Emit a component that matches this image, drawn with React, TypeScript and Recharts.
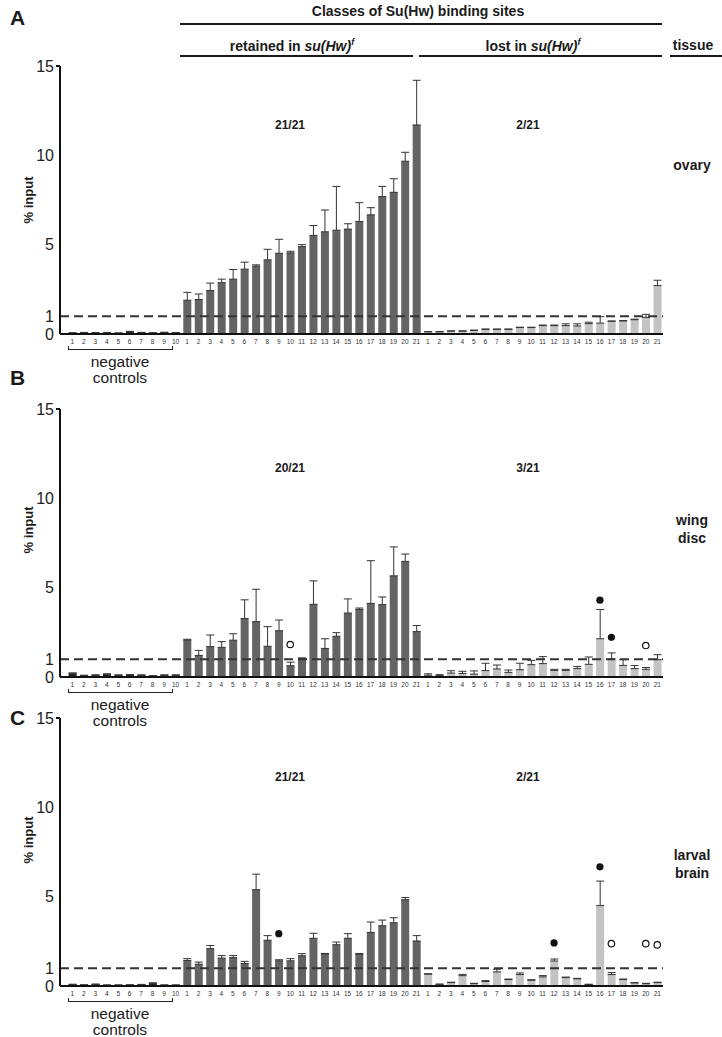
import React from "react";
import { ComposedChart, Bar, Cell, ErrorBar, Scatter, XAxis, YAxis, ReferenceLine } from "recharts";

// site numbers along the x axis
const NEG_SITES = [1, 2, 3, 4, 5, 6, 7, 8, 9, 10];
const CLASS_SITES = [1, 2, 3, 4, 5, 6, 7, 8, 9, 10, 11, 12, 13, 14, 15, 16, 17, 18, 19, 20, 21];
const Y_TICKS = [0, 1, 5, 10, 15];

// A - ovary
const A_NEG = [0.05, 0.07, 0.06, 0.07, 0.05, 0.12, 0.07, 0.06, 0.08, 0.06];
const A_NEG_ERR = [0.02, 0.02, 0.02, 0.02, 0.01, 0.03, 0.02, 0.01, 0.02, 0.02];
const A_RET = [1.89, 1.93, 2.43, 2.87, 3.07, 3.63, 3.8, 4.15, 4.52, 4.54, 4.89, 5.52, 5.72, 5.81, 5.87, 6.3, 6.67, 7.69, 7.93, 9.67, 11.7];
const A_RET_ERR = [0.44, 0.31, 0.42, 0.2, 0.54, 0.39, 0.07, 0.59, 0.78, 0.09, 0.11, 0.55, 1.22, 2.45, 0.3, 1.05, 0.4, 0.57, 0.76, 0.5, 2.5];
const A_LOST = [0.12, 0.12, 0.16, 0.16, 0.2, 0.26, 0.26, 0.26, 0.36, 0.36, 0.47, 0.47, 0.47, 0.45, 0.58, 0.61, 0.71, 0.73, 0.8, 0.93, 2.71];
const A_LOST_ERR = [0.02, 0.02, 0.02, 0.02, 0.02, 0.02, 0.02, 0.02, 0.02, 0.02, 0.03, 0.03, 0.1, 0.12, 0.08, 0.36, 0.02, 0.02, 0.03, 0.17, 0.3];

// B - wing disc
const B_NEG = [0.2, 0.08, 0.1, 0.15, 0.1, 0.12, 0.1, 0.06, 0.1, 0.1];
const B_NEG_ERR = [0.03, 0.02, 0.02, 0.03, 0.02, 0.02, 0.02, 0.01, 0.02, 0.02];
const B_RET = [2.06, 1.21, 1.7, 1.66, 2.06, 3.27, 3.1, 1.72, 2.59, 0.63, 1.03, 4.07, 1.6, 2.28, 3.58, 3.78, 4.12, 4.05, 5.66, 6.47, 2.54];
const B_RET_ERR = [0.05, 0.28, 0.65, 0.32, 0.36, 1.05, 1.81, 1.1, 0.6, 0.2, 0.04, 1.31, 0.54, 0.2, 0.79, 0.08, 2.39, 0.43, 1.62, 0.41, 0.34];
const B_LOST = [0.1, 0.08, 0.22, 0.2, 0.16, 0.36, 0.45, 0.26, 0.41, 0.69, 0.75, 0.37, 0.37, 0.47, 0.71, 2.14, 1.01, 0.65, 0.47, 0.43, 0.97];
const B_LOST_ERR = [0.08, 0.05, 0.13, 0.12, 0.18, 0.41, 0.22, 0.13, 0.36, 0.24, 0.39, 0.06, 0.06, 0.12, 0.41, 1.64, 0.34, 0.32, 0.17, 0.1, 0.28];
const B_FILLED = [{ group: "lost", site: 16, y: 4.3 }, { group: "lost", site: 17, y: 2.22 }];
const B_OPEN = [{ group: "ret", site: 10, y: 1.82 }, { group: "lost", site: 20, y: 1.76 }];

// C - larval brain
const C_NEG = [0.08, 0.06, 0.09, 0.05, 0.05, 0.06, 0.07, 0.15, 0.05, 0.05];
const C_NEG_ERR = [0.02, 0.01, 0.02, 0.01, 0.01, 0.01, 0.02, 0.03, 0.01, 0.01];
const C_RET = [1.43, 1.22, 2.09, 1.56, 1.59, 1.26, 5.39, 2.56, 1.41, 1.41, 1.69, 2.67, 1.8, 2.31, 2.67, 1.78, 3.0, 3.37, 3.54, 4.83, 2.52];
const C_RET_ERR = [0.1, 0.12, 0.18, 0.14, 0.12, 0.12, 0.87, 0.26, 0.06, 0.12, 0.12, 0.28, 0.02, 0.15, 0.26, 0.04, 0.58, 0.32, 0.28, 0.12, 0.3];
const C_LOST = [0.66, 0.09, 0.19, 0.58, 0.13, 0.25, 0.79, 0.36, 0.64, 0.32, 0.51, 1.4, 0.47, 0.4, 0.08, 4.5, 0.64, 0.36, 0.17, 0.13, 0.19];
const C_LOST_ERR = [0.03, 0.02, 0.02, 0.07, 0.02, 0.05, 0.15, 0.03, 0.09, 0.03, 0.07, 0.11, 0.03, 0.03, 0.02, 1.37, 0.11, 0.03, 0.02, 0.02, 0.02];
const C_FILLED = [{ group: "ret", site: 9, y: 2.93 }, { group: "lost", site: 12, y: 2.41 }, { group: "lost", site: 16, y: 6.67 }];
const C_OPEN = [{ group: "lost", site: 17, y: 2.37 }, { group: "lost", site: 20, y: 2.37 }, { group: "lost", site: 21, y: 2.3 }];

const COLORS = { neg: "#262626", ret: "#646464", lost: "#c3c3c3" };
const FONT = "'Liberation Sans', Arial, Helvetica, sans-serif";

function buildRows(neg, negErr, ret, retErr, lost, lostErr, filled = [], open = []) {
  const rows = [];
  NEG_SITES.forEach((s, i) => rows.push({ key: `n${s}`, label: s, group: "neg", site: s, value: neg[i], err: [0, negErr[i]] }));
  CLASS_SITES.forEach((s, i) => rows.push({ key: `r${s}`, label: s, group: "ret", site: s, value: ret[i], err: [0, retErr[i]] }));
  CLASS_SITES.forEach((s, i) => rows.push({ key: `l${s}`, label: s, group: "lost", site: s, value: lost[i], err: [0, lostErr[i]] }));
  filled.forEach(d => {
    const r = rows.find(r => r.group === d.group && r.site === d.site);
    if (r) r.filled = d.y;
  });
  open.forEach(d => {
    const r = rows.find(r => r.group === d.group && r.site === d.site);
    if (r) r.open = d.y;
  });
  return rows;
}

const YTick = ({ x, y, payload }) => (
  <g>
    <text x={x} y={y} textAnchor="end" dominantBaseline="central" fontSize={16} fill="#222" fontFamily={FONT}>
      {payload.value}
    </text>
    {payload.value === 15 && <line x1={x + 2} x2={x + 6} y1={y} y2={y} stroke="#111" strokeWidth={2} />}
  </g>
);

const XTick = ({ x, y, payload }) => (
  <text x={x} y={y + 7} textAnchor="middle" dominantBaseline="central" fontSize={6.5} fill="#333" fontFamily={FONT}>
    {String(payload.value).slice(1)}
  </text>
);

const Dot = ({ cx, cy, hollow }) => {
  if (cx == null || cy == null || Number.isNaN(cx) || Number.isNaN(cy)) return <g />;
  return hollow
    ? <circle cx={cx} cy={cy} r={3.2} fill="#fff" stroke="#111" strokeWidth={1.2} />
    : <circle cx={cx} cy={cy} r={3.6} fill="#111" />;
};

function Panel({ rows, top }) {
  return (
    <div style={{ position: "absolute", left: 0, top }}>
      <ComposedChart width={722} height={354} data={rows} margin={{ top: 66, right: 59, bottom: 0, left: 0 }}>
        <XAxis
          dataKey="key"
          interval={0}
          tick={<XTick />}
          tickSize={0}
          tickMargin={0}
          height={20}
          padding={{ left: 6.6, right: 0 }}
          axisLine={{ stroke: "#111", strokeWidth: 2 }}
        />
        <YAxis
          domain={[0, 15]}
          ticks={Y_TICKS}
          interval={0}
          width={60}
          tickSize={0}
          tickMargin={6}
          tick={<YTick />}
          axisLine={{ stroke: "#111", strokeWidth: 2 }}
        />
        <Bar dataKey="value" barSize={8} isAnimationActive={false}>
          {rows.map((r, i) => (
            <Cell key={i} fill={COLORS[r.group]} />
          ))}
          <ErrorBar dataKey="err" direction="y" width={4} stroke="#333" strokeWidth={1} />
        </Bar>
        <ReferenceLine y={1} stroke="#333" strokeWidth={2} strokeDasharray="9 5" />
        <Scatter dataKey="filled" isAnimationActive={false} shape={(p) => <Dot {...p} />} />
        <Scatter dataKey="open" isAnimationActive={false} shape={(p) => <Dot {...p} hollow />} />
      </ComposedChart>
    </div>
  );
}

const abs = (style) => ({ position: "absolute", fontFamily: FONT, color: "#1a1a1a", whiteSpace: "nowrap", ...style });

// top = y of the plot's 15 line; other values are page y of the label centres
function PanelText({ letter, top, letterY, inputY, tissueY, left, right, tissue }) {
  const base = top + 268;
  return (
    <>
      <div style={abs({ left: 10, top: letterY - 12, fontSize: 21, fontWeight: "bold" })}>{letter}</div>
      <div style={abs({ left: 28, top: inputY, fontSize: 13, fontWeight: "bold", transform: "translate(-50%, -50%) rotate(-90deg)" })}>% input</div>
      <div style={abs({ left: 290, top: top + 52, fontSize: 12, fontWeight: "bold", transform: "translateX(-50%)" })}>{left}</div>
      <div style={abs({ left: 528, top: top + 52, fontSize: 12, fontWeight: "bold", transform: "translateX(-50%)" })}>{right}</div>
      <div style={abs({ left: 692, top: tissueY - 9, fontSize: 14, fontWeight: "bold", transform: "translateX(-50%)", textAlign: "center", lineHeight: "18px" })}>
        {tissue.map((t, i) => <div key={i}>{t}</div>)}
      </div>
      <div style={{ position: "absolute", left: 68, top: base + 12, width: 103, height: 3, borderLeft: "1.5px solid #222", borderRight: "1.5px solid #222", borderBottom: "1.5px solid #222" }} />
      <div style={abs({ left: 120, top: base + 20, fontSize: 15.5, transform: "translateX(-50%)", textAlign: "center", lineHeight: "16px" })}>
        negative<br />controls
      </div>
    </>
  );
}

export default function App() {
  const rowsA = buildRows(A_NEG, A_NEG_ERR, A_RET, A_RET_ERR, A_LOST, A_LOST_ERR);
  const rowsB = buildRows(B_NEG, B_NEG_ERR, B_RET, B_RET_ERR, B_LOST, B_LOST_ERR, B_FILLED, B_OPEN);
  const rowsC = buildRows(C_NEG, C_NEG_ERR, C_RET, C_RET_ERR, C_LOST, C_LOST_ERR, C_FILLED, C_OPEN);
  const line = (l, r, t) => <div style={{ position: "absolute", left: l, width: r - l, top: t, height: 0, borderTop: "2px solid #1a1a1a" }} />;

  return (
    <div style={{ position: "absolute", left: 0, top: 0, width: 722, height: 1037, background: "#fff" }}>
      <Panel rows={rowsA} top={0} />
      <Panel rows={rowsB} top={343} />
      <Panel rows={rowsC} top={652} />

      <div style={abs({ left: 418, top: 3, fontSize: 14, fontWeight: "bold", transform: "translateX(-50%)" })}>Classes of Su(Hw) binding sites</div>
      {line(180, 662, 23)}
      <div style={abs({ left: 292, top: 37, fontSize: 14, fontWeight: "bold", transform: "translateX(-50%)" })}>
        retained in <i>su(Hw)</i><sup style={{ fontSize: 9 }}><i>f</i></sup>
      </div>
      <div style={abs({ left: 533, top: 37, fontSize: 14, fontWeight: "bold", transform: "translateX(-50%)" })}>
        lost in <i>su(Hw)</i><sup style={{ fontSize: 9 }}><i>f</i></sup>
      </div>
      <div style={abs({ left: 693, top: 37, fontSize: 14, fontWeight: "bold", transform: "translateX(-50%)" })}>tissue</div>
      {line(180, 413, 55)}
      {line(419, 662, 55)}
      {line(670, 722, 55)}

      <PanelText letter="A" top={66} letterY={18} inputY={200} tissueY={165} left="21/21" right="2/21" tissue={["ovary"]} />
      <PanelText letter="B" top={409} letterY={378} inputY={530} tissueY={520} left="20/21" right="3/21" tissue={["wing", "disc"]} />
      <PanelText letter="C" top={718} letterY={718} inputY={840} tissueY={855} left="21/21" right="2/21" tissue={["larval", "brain"]} />
    </div>
  );
}
